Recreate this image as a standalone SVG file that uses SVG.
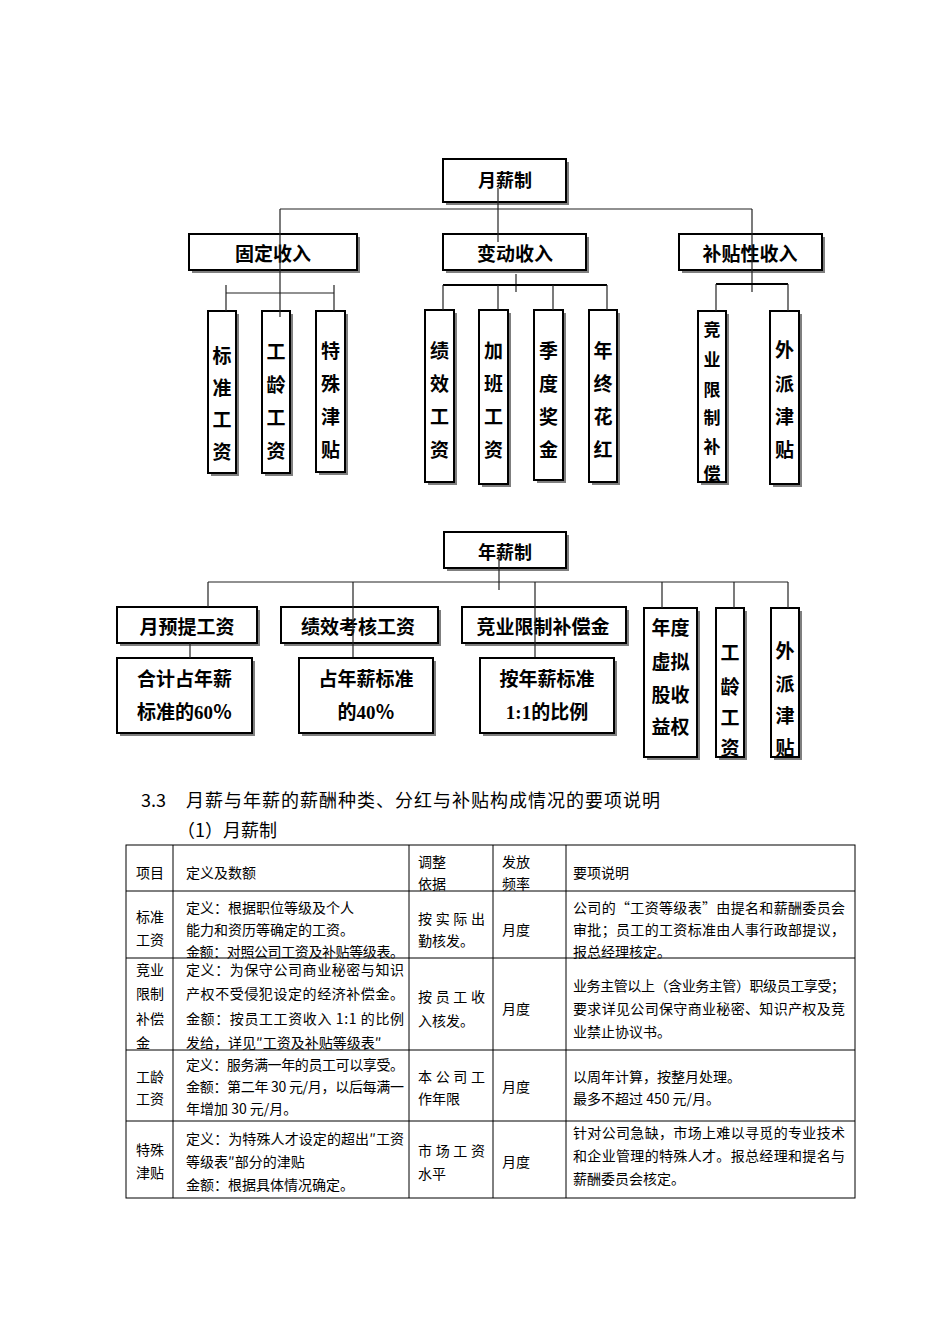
<svg xmlns="http://www.w3.org/2000/svg" width="950" height="1344" viewBox="0 0 950 1344">
<style>
.bg{fill:#fff}
.box{fill:#fff;stroke:#000;stroke-width:2}
.sh{fill:#7f7f7f}
.bt{font-family:"Noto Sans CJK SC","Noto Sans CJK JP",sans-serif;font-weight:bold;fill:#000;text-anchor:middle}
.num{font-family:"Liberation Serif",serif;font-weight:bold}
.ln{stroke:#222;stroke-width:1.2;fill:none}
.lnb{stroke:#000;stroke-width:2;fill:none}
.grid{stroke:#000;stroke-width:1;fill:none}
.tt{font-family:"Noto Sans CJK SC","Noto Sans CJK JP",sans-serif;font-size:14px;fill:#000}
.hd{font-family:"Noto Sans CJK SC","Noto Sans CJK JP",sans-serif;font-size:18px;fill:#000}
</style>
<rect class="bg" x="0" y="0" width="950" height="1344"/>

<!-- ========== 月薪制 chart ========== -->
<g id="n-yuexinzhi">
<rect class="sh" x="446" y="162" width="123" height="43"/>
<rect class="box" x="443" y="159" width="123" height="43"/>
<text class="bt" x="505" y="187" font-size="18">月薪制</text>
</g>
<g id="n-guding">
<rect class="sh" x="192" y="237" width="168" height="36"/>
<rect class="box" x="189" y="234" width="168" height="36"/>
<text class="bt" x="273" y="261" font-size="19">固定收入</text>
</g>
<g id="n-biandong">
<rect class="sh" x="446" y="237" width="143" height="36"/>
<rect class="box" x="443" y="234" width="143" height="36"/>
<text class="bt" x="515" y="261" font-size="19">变动收入</text>
</g>
<g id="n-butie">
<rect class="sh" x="682" y="237" width="143" height="36"/>
<rect class="box" x="679" y="234" width="143" height="36"/>
<text class="bt" x="750" y="261" font-size="19">补贴性收入</text>
</g>

<g id="n-biaozhun">
<rect class="sh" x="211" y="314" width="28" height="162"/>
<rect class="box" x="208" y="311" width="28" height="162"/>
<text class="bt" font-size="19"><tspan x="222" y="363">标</tspan><tspan x="222" y="395">准</tspan><tspan x="222" y="427">工</tspan><tspan x="222" y="459">资</tspan></text>
</g>
<g id="n-gongling">
<rect class="sh" x="265" y="314" width="28" height="162"/>
<rect class="box" x="262" y="311" width="28" height="162"/>
<text class="bt" font-size="19"><tspan x="276" y="359">工</tspan><tspan x="276" y="392">龄</tspan><tspan x="276" y="425">工</tspan><tspan x="276" y="458">资</tspan></text>
</g>
<g id="n-teshu">
<rect class="sh" x="319" y="314" width="29" height="161"/>
<rect class="box" x="316" y="311" width="29" height="161"/>
<text class="bt" font-size="19"><tspan x="330.5" y="358">特</tspan><tspan x="330.5" y="391">殊</tspan><tspan x="330.5" y="424">津</tspan><tspan x="330.5" y="457">贴</tspan></text>
</g>
<g id="n-jixiao">
<rect class="sh" x="428" y="313" width="29" height="172"/>
<rect class="box" x="425" y="310" width="29" height="172"/>
<text class="bt" font-size="19"><tspan x="439.5" y="358">绩</tspan><tspan x="439.5" y="391">效</tspan><tspan x="439.5" y="424">工</tspan><tspan x="439.5" y="457">资</tspan></text>
</g>
<g id="n-jiaban">
<rect class="sh" x="482" y="313" width="29" height="174"/>
<rect class="box" x="479" y="310" width="29" height="174"/>
<text class="bt" font-size="19"><tspan x="493.5" y="358">加</tspan><tspan x="493.5" y="391">班</tspan><tspan x="493.5" y="424">工</tspan><tspan x="493.5" y="457">资</tspan></text>
</g>
<g id="n-jidu">
<rect class="sh" x="537" y="313" width="29" height="170"/>
<rect class="box" x="534" y="310" width="29" height="170"/>
<text class="bt" font-size="19"><tspan x="548.5" y="358">季</tspan><tspan x="548.5" y="391">度</tspan><tspan x="548.5" y="424">奖</tspan><tspan x="548.5" y="457">金</tspan></text>
</g>
<g id="n-nianzhong">
<rect class="sh" x="592" y="313" width="28" height="172"/>
<rect class="box" x="589" y="310" width="28" height="172"/>
<text class="bt" font-size="19"><tspan x="603" y="358">年</tspan><tspan x="603" y="391">终</tspan><tspan x="603" y="424">花</tspan><tspan x="603" y="457">红</tspan></text>
</g>
<g id="n-jingye">
<rect class="sh" x="701" y="314" width="28" height="171"/>
<rect class="box" x="698" y="311" width="28" height="171"/>
<text class="bt" font-size="17"><tspan x="712" y="336">竞</tspan><tspan x="712" y="366">业</tspan><tspan x="712" y="396">限</tspan><tspan x="712" y="424">制</tspan><tspan x="712" y="453">补</tspan><tspan x="712" y="480">偿</tspan></text>
</g>
<g id="n-waipai">
<rect class="sh" x="773" y="314" width="29" height="173"/>
<rect class="box" x="770" y="311" width="29" height="173"/>
<text class="bt" font-size="19"><tspan x="784.5" y="357">外</tspan><tspan x="784.5" y="391">派</tspan><tspan x="784.5" y="424">津</tspan><tspan x="784.5" y="457">贴</tspan></text>
</g>

<!-- ========== 年薪制 chart ========== -->
<g id="n-nianxinzhi">
<rect class="sh" x="447" y="535" width="122" height="36"/>
<rect class="box" x="444" y="532" width="122" height="36"/>
<text class="bt" x="505" y="559" font-size="18">年薪制</text>
</g>
<g id="n-yueyuti">
<rect class="sh" x="120" y="610" width="140" height="36"/>
<rect class="box" x="117" y="607" width="140" height="36"/>
<text class="bt" x="187" y="634" font-size="19">月预提工资</text>
</g>
<g id="n-jixiaokaohe">
<rect class="sh" x="284" y="610" width="157" height="36"/>
<rect class="box" x="281" y="607" width="157" height="36"/>
<text class="bt" x="358" y="634" font-size="19">绩效考核工资</text>
</g>
<g id="n-jingyebcj">
<rect class="sh" x="465" y="610" width="164" height="36"/>
<rect class="box" x="462" y="607" width="164" height="36"/>
<text class="bt" x="543" y="634" font-size="19">竞业限制补偿金</text>
</g>
<g id="n-heji">
<rect class="sh" x="120" y="661" width="135" height="75"/>
<rect class="box" x="117" y="658" width="135" height="75"/>
<text class="bt" x="184.5" y="686" font-size="19">合计占年薪</text>
<text class="bt" x="184.5" y="719" font-size="19">标准的<tspan class="num">60</tspan>％</text>
</g>
<g id="n-zhan">
<rect class="sh" x="302" y="661" width="134" height="75"/>
<rect class="box" x="299" y="658" width="134" height="75"/>
<text class="bt" x="366" y="686" font-size="19">占年薪标准</text>
<text class="bt" x="366" y="719" font-size="19">的<tspan class="num">40</tspan>％</text>
</g>
<g id="n-an">
<rect class="sh" x="483" y="661" width="134" height="75"/>
<rect class="box" x="480" y="658" width="134" height="75"/>
<text class="bt" x="547" y="686" font-size="19">按年薪标准</text>
<text class="bt" x="547" y="719" font-size="19"><tspan class="num">1:1</tspan>的比例</text>
</g>
<g id="n-niandu">
<rect class="sh" x="647" y="611" width="53" height="149"/>
<rect class="box" x="644" y="608" width="53" height="149"/>
<text class="bt" font-size="19"><tspan x="670.5" y="635">年度</tspan><tspan x="670.5" y="669">虚拟</tspan><tspan x="670.5" y="702">股收</tspan><tspan x="670.5" y="734">益权</tspan></text>
</g>
<g id="n-gongling2">
<rect class="sh" x="719" y="611" width="28" height="149"/>
<rect class="box" x="716" y="608" width="28" height="149"/>
<text class="bt" font-size="19"><tspan x="730" y="660">工</tspan><tspan x="730" y="694">龄</tspan><tspan x="730" y="725">工</tspan><tspan x="730" y="755">资</tspan></text>
</g>
<g id="n-waipai2">
<rect class="sh" x="774" y="611" width="28" height="149"/>
<rect class="box" x="771" y="608" width="28" height="149"/>
<text class="bt" font-size="19"><tspan x="785" y="658">外</tspan><tspan x="785" y="691">派</tspan><tspan x="785" y="723">津</tspan><tspan x="785" y="755">贴</tspan></text>
</g>

<!-- ========== connectors ========== -->
<g id="connectors">
<line class="ln" x1="498" y1="188" x2="498" y2="242"/>
<line class="ln" x1="280" y1="209" x2="752" y2="209"/>
<line class="ln" x1="280" y1="209" x2="280" y2="317"/>
<line class="ln" x1="752" y1="209" x2="752" y2="292"/>
<line class="ln" x1="226" y1="293" x2="334" y2="293"/>
<line class="ln" x1="226" y1="285" x2="226" y2="311"/>
<line class="ln" x1="334" y1="285" x2="334" y2="311"/>
<line class="ln" x1="516" y1="274" x2="516" y2="292"/>
<line class="lnb" x1="443" y1="285" x2="607" y2="285"/>
<line class="ln" x1="443" y1="285" x2="443" y2="310"/>
<line class="ln" x1="498" y1="285" x2="498" y2="310"/>
<line class="ln" x1="553" y1="285" x2="553" y2="310"/>
<line class="ln" x1="607" y1="285" x2="607" y2="310"/>
<line class="lnb" x1="716" y1="284" x2="788" y2="284"/>
<line class="ln" x1="716" y1="284" x2="716" y2="311"/>
<line class="ln" x1="788" y1="284" x2="788" y2="311"/>

<line class="ln" x1="499" y1="558" x2="499" y2="590"/>
<line class="ln" x1="208" y1="582" x2="788" y2="582"/>
<line class="ln" x1="208" y1="582" x2="208" y2="607"/>
<line class="ln" x1="353" y1="582" x2="353" y2="657"/>
<line class="ln" x1="535" y1="582" x2="535" y2="657"/>
<line class="ln" x1="662" y1="582" x2="662" y2="608"/>
<line class="ln" x1="734" y1="582" x2="734" y2="608"/>
<line class="ln" x1="788" y1="582" x2="788" y2="608"/>
<line class="ln" x1="190" y1="643" x2="190" y2="658"/>
</g>

<!-- ========== headings ========== -->
<text class="hd" x="141" y="807">3.3</text>
<text class="hd" x="186" y="807" textLength="474" lengthAdjust="spacing">月薪与年薪的薪酬种类、分红与补贴构成情况的要项说明</text>
<text class="hd" x="177" y="837">（1）月薪制</text>

<!-- ========== table ========== -->
<g id="table">
<rect class="grid" x="126" y="845" width="729" height="353"/>
<line class="grid" x1="126" y1="891" x2="855" y2="891"/>
<line class="grid" x1="126" y1="958" x2="855" y2="958"/>
<line class="grid" x1="126" y1="1050" x2="855" y2="1050"/>
<line class="grid" x1="126" y1="1121" x2="855" y2="1121"/>
<line class="grid" x1="173" y1="845" x2="173" y2="1198"/>
<line class="grid" x1="409" y1="845" x2="409" y2="1198"/>
<line class="grid" x1="493" y1="845" x2="493" y2="1198"/>
<line class="grid" x1="566" y1="845" x2="566" y2="1198"/>

<text class="tt" x="136" y="878">项目</text>
<text class="tt" x="186" y="878">定义及数额</text>
<text class="tt" x="418" y="867">调整</text>
<text class="tt" x="418" y="889">依据</text>
<text class="tt" x="502" y="867">发放</text>
<text class="tt" x="502" y="889">频率</text>
<text class="tt" x="573" y="878">要项说明</text>

<text class="tt" x="136" y="922">标准</text>
<text class="tt" x="136" y="945">工资</text>
<text class="tt" x="186" y="913">定义：根据职位等级及个人</text>
<text class="tt" x="186" y="935">能力和资历等确定的工资。</text>
<text class="tt" x="186" y="957" textLength="218" lengthAdjust="spacing">金额：对照公司工资及补贴等级表。</text>
<text class="tt" x="418" y="924" textLength="67" lengthAdjust="spacing">按实际出</text>
<text class="tt" x="418" y="946">勤核发。</text>
<text class="tt" x="502" y="935">月度</text>
<text class="tt" x="573" y="913" textLength="272" lengthAdjust="spacing">公司的“工资等级表”由提名和薪酬委员会</text>
<text class="tt" x="573" y="935" textLength="272" lengthAdjust="spacing">审批；员工的工资标准由人事行政部提议，</text>
<text class="tt" x="573" y="957">报总经理核定。</text>

<text class="tt" x="136" y="975">竞业</text>
<text class="tt" x="136" y="999">限制</text>
<text class="tt" x="136" y="1024">补偿</text>
<text class="tt" x="136" y="1048">金</text>
<text class="tt" x="186" y="975" textLength="218" lengthAdjust="spacing">定义：为保守公司商业秘密与知识</text>
<text class="tt" x="186" y="999" textLength="218" lengthAdjust="spacing">产权不受侵犯设定的经济补偿金。</text>
<text class="tt" x="186" y="1024" textLength="218" lengthAdjust="spacing">金额：按员工工资收入 1:1 的比例</text>
<text class="tt" x="186" y="1048">发给，详见″工资及补贴等级表″</text>
<text class="tt" x="418" y="1002" textLength="67" lengthAdjust="spacing">按员工收</text>
<text class="tt" x="418" y="1026">入核发。</text>
<text class="tt" x="502" y="1014">月度</text>
<text class="tt" x="573" y="991" textLength="272" lengthAdjust="spacing">业务主管以上（含业务主管）职级员工享受；</text>
<text class="tt" x="573" y="1014" textLength="272" lengthAdjust="spacing">要求详见公司保守商业秘密、知识产权及竞</text>
<text class="tt" x="573" y="1037">业禁止协议书。</text>

<text class="tt" x="136" y="1082">工龄</text>
<text class="tt" x="136" y="1104">工资</text>
<text class="tt" x="186" y="1070" textLength="218" lengthAdjust="spacing">定义：服务满一年的员工可以享受。</text>
<text class="tt" x="186" y="1092" textLength="218" lengthAdjust="spacing">金额：第二年 30 元/月，以后每满一</text>
<text class="tt" x="186" y="1114">年增加 30 元/月。</text>
<text class="tt" x="418" y="1082" textLength="67" lengthAdjust="spacing">本公司工</text>
<text class="tt" x="418" y="1104">作年限</text>
<text class="tt" x="502" y="1092">月度</text>
<text class="tt" x="573" y="1082">以周年计算，按整月处理。</text>
<text class="tt" x="573" y="1104">最多不超过 450 元/月。</text>

<text class="tt" x="136" y="1155">特殊</text>
<text class="tt" x="136" y="1178">津贴</text>
<text class="tt" x="186" y="1144" textLength="218" lengthAdjust="spacing">定义：为特殊人才设定的超出″工资</text>
<text class="tt" x="186" y="1167">等级表″部分的津贴</text>
<text class="tt" x="186" y="1190">金额：根据具体情况确定。</text>
<text class="tt" x="418" y="1156" textLength="67" lengthAdjust="spacing">市场工资</text>
<text class="tt" x="418" y="1179">水平</text>
<text class="tt" x="502" y="1167">月度</text>
<text class="tt" x="573" y="1138" textLength="272" lengthAdjust="spacing">针对公司急缺，市场上难以寻觅的专业技术</text>
<text class="tt" x="573" y="1161" textLength="272" lengthAdjust="spacing">和企业管理的特殊人才。报总经理和提名与</text>
<text class="tt" x="573" y="1184">薪酬委员会核定。</text>
</g>
</svg>
